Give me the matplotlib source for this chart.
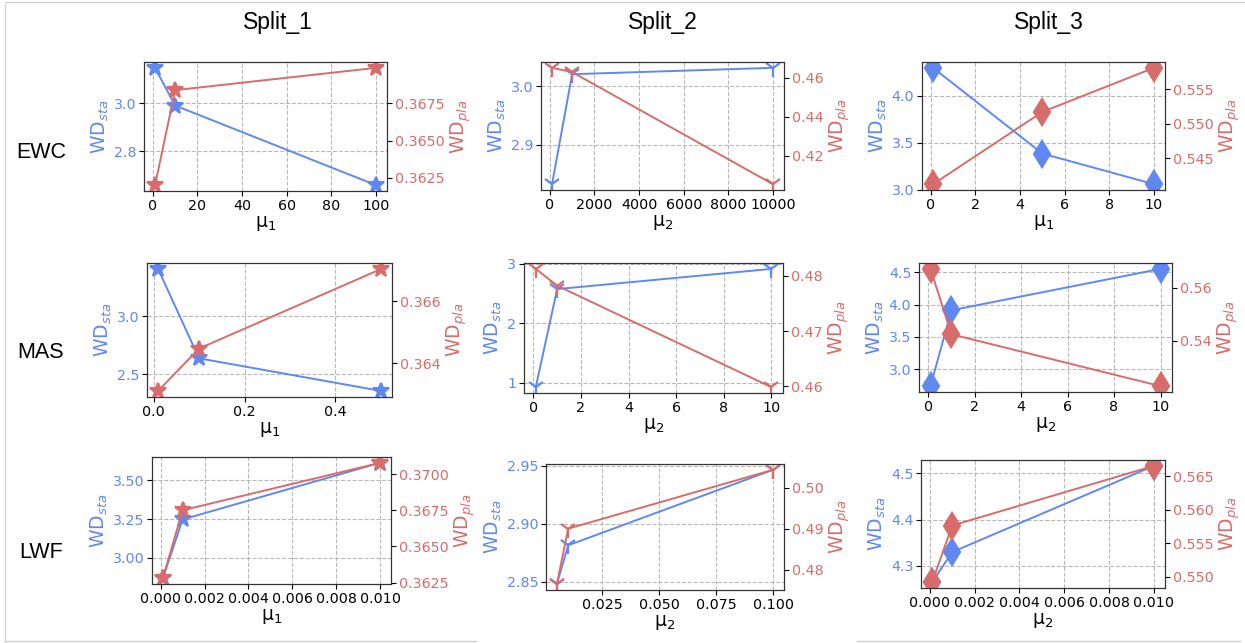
import matplotlib
matplotlib.use("Agg")
import matplotlib.pyplot as plt
from matplotlib.lines import Line2D

# column / row headers
splits = ["Split_1", "Split_2", "Split_3"]
methods = ["EWC", "MAS", "LWF"]

# per method: one list per split (Split_1, Split_2, Split_3)
ewc_mu = [[1, 10, 100], [100, 1000, 10000], [0.1, 5, 10]]
ewc_sta = [[3.146, 2.99, 2.66], [2.832, 3.021, 3.032], [4.30, 3.386, 3.06]]
ewc_pla = [[0.3620, 0.3684, 0.3699], [0.4651, 0.4629, 0.4053], [0.5412, 0.5517, 0.5581]]
ewc_xlabels = ["μ$_1$", "μ$_2$", "μ$_1$"]

mas_mu = [[0.01, 0.1, 0.5], [0.1, 1, 10], [0.1, 1, 10]]
mas_sta = [[3.41, 2.638, 2.356], [0.93, 2.576, 2.915], [2.741, 3.912, 4.552]]
mas_pla = [[0.36312, 0.36448, 0.36703], [0.48128, 0.47823, 0.45982], [0.5672, 0.5425, 0.5229]]
mas_xlabels = ["μ$_1$", "μ$_2$", "μ$_2$"]

lwf_mu = [[0.0001, 0.001, 0.01], [0.005, 0.01, 0.1], [0.0001, 0.001, 0.01]]
lwf_sta = [[2.869, 3.247, 3.612], [2.848, 2.8815, 2.9464], [4.265, 4.330, 4.516]]
lwf_pla = [[0.3628, 0.3675, 0.37078], [0.4764, 0.4900, 0.5044], [0.54915, 0.55765, 0.5666]]
lwf_xlabels = ["μ$_1$", "μ$_2$", "μ$_2$"]

# tick positions
x_ticks = [
    [[0, 20, 40, 60, 80, 100], [0, 2000, 4000, 6000, 8000, 10000], [0, 2, 4, 6, 8, 10]],
    [[0.0, 0.2, 0.4], [0, 2, 4, 6, 8, 10], [0, 2, 4, 6, 8, 10]],
    [[0.000, 0.002, 0.004, 0.006, 0.008, 0.010], [0.025, 0.050, 0.075, 0.100],
     [0.000, 0.002, 0.004, 0.006, 0.008, 0.010]],
]
sta_ticks = [
    [[2.8, 3.0], [2.9, 3.0], [3.0, 3.5, 4.0]],
    [[2.5, 3.0], [1, 2, 3], [3.0, 3.5, 4.0, 4.5]],
    [[3.00, 3.25, 3.50], [2.85, 2.90, 2.95], [4.3, 4.4, 4.5]],
]
pla_ticks = [
    [[0.3625, 0.3650, 0.3675], [0.42, 0.44, 0.46], [0.545, 0.550, 0.555]],
    [[0.364, 0.366], [0.46, 0.47, 0.48], [0.54, 0.56]],
    [[0.3625, 0.3650, 0.3675, 0.3700], [0.48, 0.49, 0.50], [0.550, 0.555, 0.560, 0.565]],
]

markers = ["*", "1", "d"]
BLUE = "#6088F2"
RED = "#D86C6C"

W, H = 1245, 643
# axes boxes in pixels (left, top, right, bottom)
boxes = [
    [(144, 62, 387, 191), (541, 62, 784, 190), (922, 62, 1165, 190)],
    [(147, 263, 392, 397), (524, 263, 783, 393), (919, 263, 1172, 392)],
    [(152, 457, 391, 584), (546, 464, 784, 590), (921, 460, 1165, 588)],
]

fig = plt.figure(figsize=(W / 100, H / 100), dpi=100)

rows = [
    (ewc_mu, ewc_sta, ewc_pla, ewc_xlabels),
    (mas_mu, mas_sta, mas_pla, mas_xlabels),
    (lwf_mu, lwf_sta, lwf_pla, lwf_xlabels),
]

for r, (mu, sta, pla, xlabels) in enumerate(rows):
    for c in range(3):
        l, t, rr, b = boxes[r][c]
        ax = fig.add_axes([l / W, 1 - b / H, (rr - l) / W, (b - t) / H])
        ax2 = ax.twinx()
        ms = 13 if markers[c] != "*" else 12
        ax.plot(mu[c], sta[c], color=BLUE, marker=markers[c], markersize=ms,
                markeredgewidth=1.6, linewidth=1.4)
        ax2.plot(mu[c], pla[c], color=RED, marker=markers[c], markersize=ms,
                 markeredgewidth=1.6, linewidth=1.4)

        ax.set_xticks(x_ticks[r][c])
        ax.set_yticks(sta_ticks[r][c])
        ax2.set_yticks(pla_ticks[r][c])
        ax.grid(True, linestyle="--", color="#b8b8b8", linewidth=0.8)
        ax.set_axisbelow(True)

        ax.tick_params(axis="x", labelsize=10.3, pad=2)
        ax.tick_params(axis="y", labelsize=10.3, labelcolor=BLUE, pad=2)
        ax2.tick_params(axis="y", labelsize=10.3, labelcolor=RED, pad=2)
        ax.set_xlabel(xlabels[c], fontsize=13.5, labelpad=1)
        ax.set_ylabel("WD$_{sta}$", color=BLUE, fontsize=13.5, labelpad=2)
        ax2.set_ylabel("WD$_{pla}$", color=RED, fontsize=13.5, labelpad=3)
        for sp in ax2.spines.values():
            sp.set_color("#333333")

# headers
for c, (name, xc) in enumerate(zip(splits, [278, 663, 1049])):
    fig.text(xc / W, 1 - 22 / H, name, ha="center", va="center",
             fontsize=16.5, family="Liberation Sans")
for name, yc in zip(methods, [152, 352, 552]):
    fig.text(41 / W, 1 - yc / H, name, ha="center", va="center",
             fontsize=15.5, family="Liberation Sans")

# light frame lines from the original composite
frame = dict(color="#d0d0d0", linewidth=1.0, transform=fig.transFigure)
fig.add_artist(Line2D([5 / W, 1], [1 - 2 / H, 1 - 2 / H], **frame))
fig.add_artist(Line2D([5 / W, 5 / W], [1 - 5 / H, 1 - 641 / H], **frame))
fig.add_artist(Line2D([5 / W, 476 / W], [1 - 641 / H, 1 - 641 / H], **frame))
fig.add_artist(Line2D([857 / W, 1240 / W], [1 - 641 / H, 1 - 641 / H], **frame))

fig.savefig("out.png", dpi=100)
